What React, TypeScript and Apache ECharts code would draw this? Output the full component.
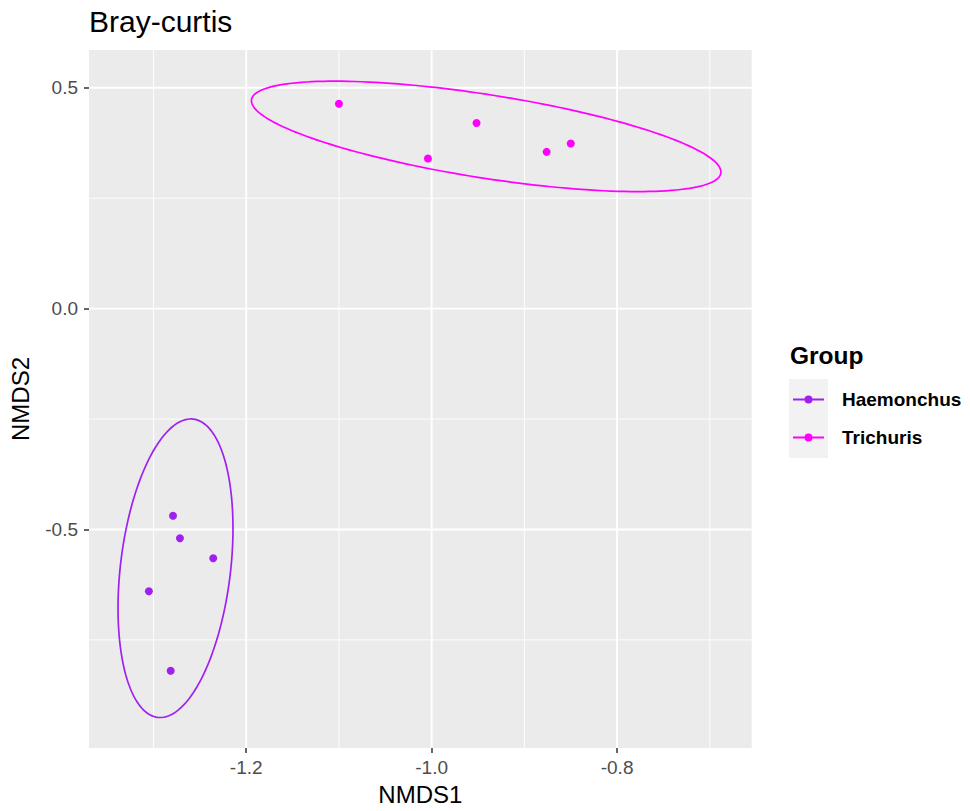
import React, { useEffect, useRef } from "react";
import * as echarts from "echarts";

// Axis ranges and ticks
const xRange = [-1.3696, -0.6548];
const yRange = [-0.9948, 0.5856];
const xMajorTicks = [-1.2, -1.0, -0.8];
const xMinorTicks = [-1.3, -1.1, -0.9, -0.7];
const yMajorTicks = [-0.5, 0.0, 0.5];
const yMinorTicks = [-0.75, -0.25, 0.25];

// Groups
const groups = ["Haemonchus", "Trichuris"];
const groupColors = ["#A020F0", "#FF00FF"];

// Points (NMDS1, NMDS2)
const haemonchusNMDS1 = [-1.279, -1.2715, -1.2356, -1.305, -1.2815];
const haemonchusNMDS2 = [-0.469, -0.52, -0.565, -0.64, -0.82];
const trichurisNMDS1 = [-1.1, -1.004, -0.9516, -0.876, -0.85];
const trichurisNMDS2 = [0.464, 0.34, 0.4205, 0.355, 0.374];

// Ellipses: [centerX, centerY, halfExtentX, halfExtentY, correlation]
const haemonchusEllipse = [-1.2763, -0.5878, 0.062, 0.338, 0.267];
const trichurisEllipse = [-0.9412, 0.39, 0.2532, 0.125, -0.645];

const FONT = "'Liberation Sans', Arial, Helvetica, sans-serif";
const KEY_ICON =
  "path://M0,3.0L31,3.0L31,5.0L0,5.0Z M11.5,4A4,4 0 1 1 19.5,4A4,4 0 1 1 11.5,4Z";

function ellipseSeries(name: string, color: string, params: number[]) {
  return {
    type: "custom",
    name: name + " ellipse",
    silent: true,
    z: 2,
    encode: { x: 0, y: 1 },
    data: [params],
    renderItem: (_p: any, api: any) => {
      const cx = api.value(0);
      const cy = api.value(1);
      const rx = api.value(2);
      const ry = api.value(3);
      const rho = api.value(4);
      const s = Math.sqrt(1 - rho * rho);
      const pts: number[][] = [];
      const N = 180;
      for (let k = 0; k <= N; k++) {
        const t = (2 * Math.PI * k) / N;
        pts.push(
          api.coord([cx + rx * Math.cos(t), cy + ry * (rho * Math.cos(t) + s * Math.sin(t))])
        );
      }
      return {
        type: "polyline",
        shape: { points: pts },
        style: { fill: "none", stroke: color, lineWidth: 1.7 },
      };
    },
  };
}

export default function App() {
  const ref = useRef<HTMLDivElement>(null);
  useEffect(() => {
    if (!ref.current) return;
    const chart = echarts.init(ref.current, null, { renderer: "svg" });
    const pts = (xs: number[], ys: number[]) => xs.map((x, i) => [x, ys[i]]);
    const option: any = {
      animation: false,
      backgroundColor: "#FFFFFF",
      textStyle: { fontFamily: FONT },
      title: [
        {
          text: "Bray-curtis",
          left: 89,
          top: 6,
          padding: 0,
          textStyle: { fontSize: 30, fontWeight: "normal", color: "#000", fontFamily: FONT },
        },
        {
          text: "Group",
          left: 790,
          top: 343,
          padding: 0,
          textStyle: { fontSize: 24.5, fontWeight: "bold", color: "#000", fontFamily: FONT },
        },
      ],
      legend: {
        orient: "vertical",
        left: 793,
        top: 390,
        padding: 0,
        itemWidth: 31,
        itemHeight: 8,
        itemGap: 19,
        selectedMode: false,
        data: groups.map((g) => ({ name: g, icon: KEY_ICON })),
        textStyle: {
          fontSize: 19,
          fontWeight: "bold",
          color: "#000",
          fontFamily: FONT,
          padding: [0, 0, 0, 13],
        },
      },
      graphic: [
        {
          type: "rect",
          z: 0,
          shape: { x: 789, y: 379, width: 39, height: 79 },
          style: { fill: "#F2F2F2" },
          silent: true,
        },
      ],
      grid: {
        left: 89,
        right: 218.3,
        top: 50,
        bottom: 59.3,
        show: true,
        backgroundColor: "#EBEBEB",
        borderWidth: 0,
        containLabel: false,
      },
      xAxis: {
        type: "value",
        min: xRange[0],
        max: xRange[1],
        name: "NMDS1",
        nameLocation: "middle",
        nameGap: 34,
        nameTextStyle: { fontSize: 24, color: "#000", fontFamily: FONT },
        axisLine: { show: false, onZero: false },
        axisTick: {
          show: true,
          length: 5,
          customValues: xMajorTicks,
          lineStyle: { color: "#333333", width: 1.5 },
        },
        axisLabel: {
          customValues: xMajorTicks,
          formatter: (v: number) => v.toFixed(1),
          fontSize: 19,
          color: "#4D4D4D",
          margin: 10,
          fontFamily: FONT,
        },
        splitLine: { show: false },
      },
      yAxis: {
        type: "value",
        min: yRange[0],
        max: yRange[1],
        name: "NMDS2",
        nameLocation: "middle",
        nameGap: 57,
        nameTextStyle: { fontSize: 24, color: "#000", fontFamily: FONT },
        axisLine: { show: false, onZero: false },
        axisTick: {
          show: true,
          length: 5,
          customValues: yMajorTicks,
          lineStyle: { color: "#333333", width: 1.5 },
        },
        axisLabel: {
          customValues: yMajorTicks,
          formatter: (v: number) => v.toFixed(1),
          fontSize: 19,
          color: "#4D4D4D",
          margin: 11,
          fontFamily: FONT,
        },
        splitLine: { show: false },
      },
      series: [
        {
          type: "custom",
          name: "gridlines",
          silent: true,
          z: 1,
          encode: { x: 0, y: 1 },
          data: [[xRange[0], yRange[0]]],
          renderItem: (_p: any, api: any) => {
            const children: any[] = [];
            const vline = (v: number, w: number) => {
              const a = api.coord([v, yRange[0]]);
              const b = api.coord([v, yRange[1]]);
              children.push({
                type: "line",
                shape: { x1: a[0], y1: a[1], x2: b[0], y2: b[1] },
                style: { stroke: "#FFFFFF", lineWidth: w },
              });
            };
            const hline = (v: number, w: number) => {
              const a = api.coord([xRange[0], v]);
              const b = api.coord([xRange[1], v]);
              children.push({
                type: "line",
                shape: { x1: a[0], y1: a[1], x2: b[0], y2: b[1] },
                style: { stroke: "#FFFFFF", lineWidth: w },
              });
            };
            xMinorTicks.forEach((v) => vline(v, 0.9));
            yMinorTicks.forEach((v) => hline(v, 0.9));
            xMajorTicks.forEach((v) => vline(v, 1.9));
            yMajorTicks.forEach((v) => hline(v, 1.9));
            return { type: "group", children };
          },
        },
        ellipseSeries(groups[0], groupColors[0], haemonchusEllipse),
        ellipseSeries(groups[1], groupColors[1], trichurisEllipse),
        {
          type: "scatter",
          name: groups[0],
          z: 3,
          symbol: "circle",
          symbolSize: 8,
          itemStyle: { color: groupColors[0], opacity: 1 },
          data: pts(haemonchusNMDS1, haemonchusNMDS2),
        },
        {
          type: "scatter",
          name: groups[1],
          z: 3,
          symbol: "circle",
          symbolSize: 8,
          itemStyle: { color: groupColors[1], opacity: 1 },
          data: pts(trichurisNMDS1, trichurisNMDS2),
        },
      ],
    };
    chart.setOption(option);
    return () => chart.dispose();
  }, []);
  return (
    <div
      ref={ref}
      style={{ position: "absolute", left: 0, top: 0, width: "970px", height: "811px" }}
    />
  );
}
